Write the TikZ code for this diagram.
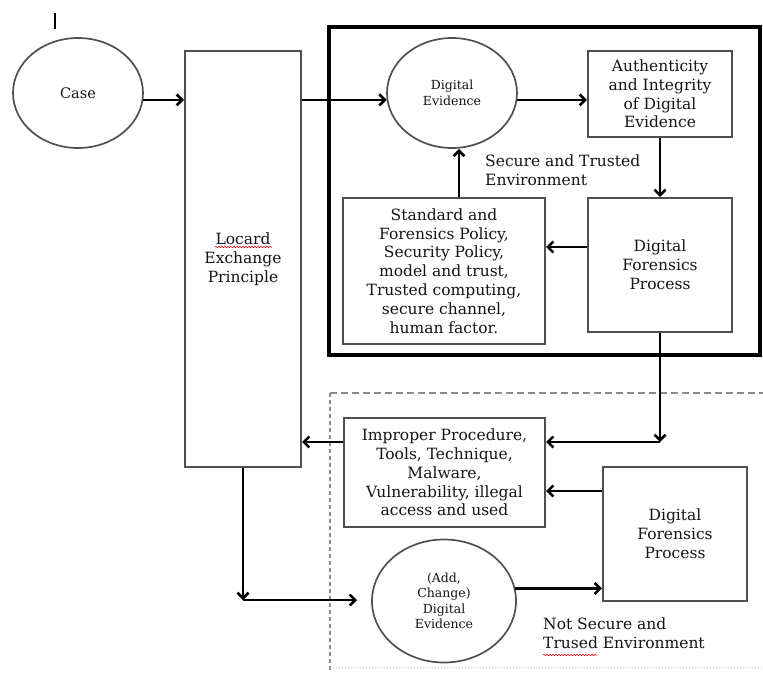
\documentclass[tikz,border=0pt]{standalone}
\usepackage{fontspec}
\setmainfont{DejaVu Serif}
\usetikzlibrary{arrows.meta,shapes.geometric,decorations.pathmorphing}
\definecolor{boxgray}{HTML}{505050}
\definecolor{txt}{HTML}{141414}
\definecolor{dashgray}{HTML}{8A8A8A}
\tikzset{
  boxnode/.style={draw=boxgray,line width=2bp,rectangle,align=center,text=txt,inner sep=0pt,
     font=\fontsize{15.5bp}{18.8bp}\selectfont},
  ellnode/.style={draw=boxgray,line width=1.7bp,ellipse,align=center,text=txt,inner sep=0pt,
     font=\fontsize{12.5bp}{15.5bp}\selectfont},
  arr/.style={draw=black,line width=2.6bp,-{Straight Barb[length=5.5bp,width=11bp]}},
  labeltext/.style={align=left,text=txt,inner sep=0pt,font=\fontsize{15.5bp}{18.8bp}\selectfont},
  wavy/.style={draw=red!85!black,line width=0.6bp,decorate,decoration={snake,segment length=3bp,amplitude=0.7bp}}
}
\begin{document}
\begin{tikzpicture}[x=1bp,y=-1bp]
\useasboundingbox (0,0) rectangle (763,673);
% stray tick
\draw[line width=1.6bp,black] (55,13) -- (55,29);
% frames
\draw[black,line width=3.2bp] (329,27) rectangle (760,355);
\draw[dashgray,line width=2bp,dash pattern=on 7bp off 4bp] (330,393) -- (763,393);
\draw[dashgray,line width=2bp,dash pattern=on 4bp off 3bp] (330,393) -- (330,673);
\draw[black!20,line width=1bp,dotted] (330,667) -- (763,667);
% nodes
\node[ellnode,minimum width=130bp,minimum height=110bp,font=\fontsize{14.5bp}{17bp}\selectfont] (case) at (78,93) {Case};
\node[boxnode,minimum width=116bp,minimum height=416bp] (locard) at (243,259) {Locard\\Exchange\\Principle};
\node[ellnode,minimum width=130bp,minimum height=110bp] (de) at (452,93) {Digital\\Evidence};
\node[boxnode,minimum width=144bp,minimum height=86bp] (auth) at (660,94) {Authenticity\\and Integrity\\of Digital\\Evidence};
\node[boxnode,minimum width=144bp,minimum height=134bp] (dfpa) at (660,265) {Digital\\Forensics\\Process};
\node[boxnode,minimum width=202bp,minimum height=146bp] (std) at (444,271) {Standard and\\Forensics Policy,\\Security Policy,\\model and trust,\\Trusted computing,\\secure channel,\\human factor.};
\node[labeltext,anchor=north west] (sec) at (485,155) {Secure and Trusted\\Environment};
\node[boxnode,minimum width=201bp,minimum height=109bp] (imp) at (444.5,472.5) {Improper Procedure,\\Tools, Technique,\\Malware,\\Vulnerability, illegal\\access and used};
\node[boxnode,minimum width=144bp,minimum height=134bp] (dfpb) at (675,534) {Digital\\Forensics\\Process};
\node[ellnode,minimum width=144bp,minimum height=123bp] (add) at (444,601) {(Add,\\Change)\\Digital\\Evidence};
\node[labeltext,anchor=north west] (nots) at (543,618) {Not Secure and\\Trused Environment};
% spell-check underlines
\draw[wavy] (215,247) -- (272,247);
\draw[wavy] (543,655) -- (597,655);
% connectors
\coordinate (c1) at (660,442);
\coordinate (c2) at (243,600);
\coordinate (c3) at (357,600);
\draw[arr] (case.-6) -- (case.-6 -| locard.west);
\draw[arr] (locard.east |- de.-174) -- (de.-174);
\draw[arr] (de.-6) -- (de.-6 -| auth.west);
\draw[arr] (auth.south) -- (dfpa.north);
\draw[arr] ([yshift=18bp]dfpa.west) -- ([yshift=18bp]dfpa.west -| std.east);
\draw[arr] ([xshift=15bp]std.north) -- ([xshift=15bp]std.north |- de.south);
\draw[arr] (dfpa.south) -- (c1);
\draw[arr] (c1) -- (c1 -| imp.east);
\draw[arr] (imp.west |- c1) -- (locard.east |- c1);
\draw[arr] ([yshift=43bp]dfpb.west) -- ([yshift=43bp]dfpb.west -| imp.east);
\draw[arr] (locard.south) -- (c2);
\draw[arr] (c2) -- (c3);
\draw[arr] (add.10) -- (add.10 -| dfpb.west);
\end{tikzpicture}
\end{document}
